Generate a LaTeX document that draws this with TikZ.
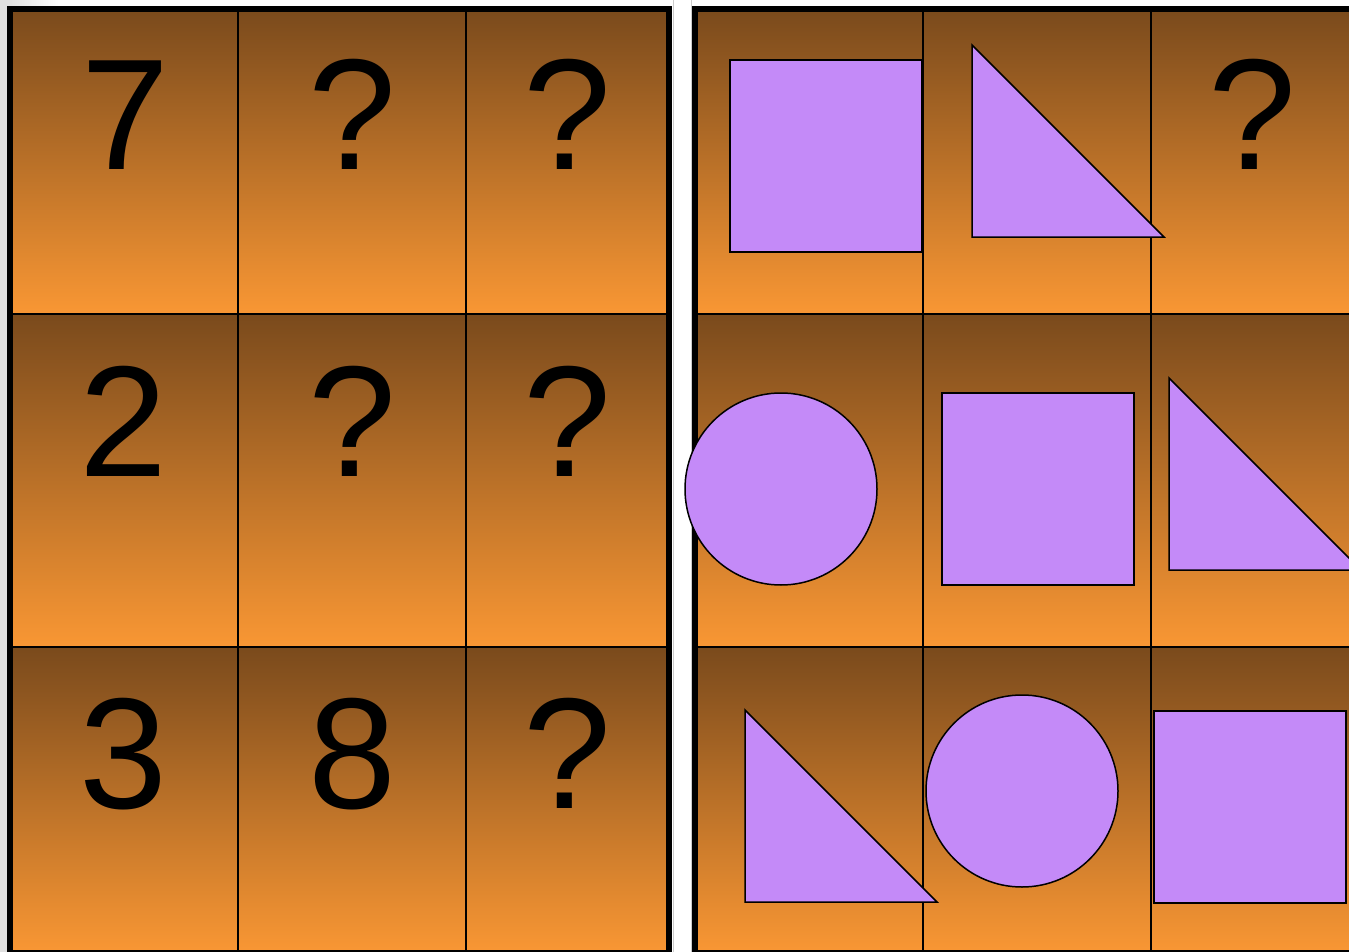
\documentclass[tikz,border=0pt]{standalone}
\usepackage{fontspec}
\setmainfont{Liberation Sans}
\definecolor{brtop}{HTML}{7A4A1C}
\definecolor{orbot}{HTML}{F99734}
\definecolor{lav}{HTML}{C48AF8}
\definecolor{bggrey}{HTML}{E0E0E0}
\begin{document}
\begin{tikzpicture}[x=1pt,y=-1pt,
  cellshade/.style={top color=brtop, bottom color=orbot},
  gridline/.style={draw=black, line width=2pt},
  frame/.style={draw=black, line width=6pt},
  shapefill/.style={fill=lav, draw=black, line width=1.5pt},
  glyph/.style={anchor=base, inner sep=0pt, font=\fontsize{158}{158}\selectfont}]
\useasboundingbox (0,0) rectangle (1349,952);
\clip (0,0) rectangle (1349,952);
\fill[white] (0,0) rectangle (1349,952);
\fill[bggrey] (0,0) rectangle (7,952);
\shade[left color=bggrey, right color=white] (7,0) rectangle (60,6);
% cell shading
\foreach \xa/\xb in {10/669, 695/1400}{
  \shade[cellshade] (\xa,10) rectangle (\xb,314);
  \shade[cellshade] (\xa,314) rectangle (\xb,647);
  \shade[cellshade] (\xa,647) rectangle (\xb,952);
}
% grid lines left panel
\draw[gridline] (10,314) -- (669,314);
\draw[gridline] (10,647) -- (669,647);
\draw[gridline] (238,10) -- (238,952);
\draw[gridline] (466,10) -- (466,952);
% grid lines right panel
\draw[gridline] (695,314) -- (1400,314);
\draw[gridline] (695,647) -- (1400,647);
\draw[gridline] (923,10) -- (923,952);
\draw[gridline] (1151,10) -- (1151,952);
% frames
\draw[frame] (10,9) rectangle (669,953);
\draw[frame] (1400,9) -- (695,9) -- (695,953) -- (1400,953);
\draw[gray!40, line width=1pt] (673,0) -- (673,952);
\draw[gray!40, line width=1pt] (691,0) -- (691,952);
% numbers
\node[glyph] (n11) at (125,170) {7};
\node[glyph] (n12) at (352,170) {?};
\node[glyph] (n13) at (567,170) {?};
\node[glyph] (n21) at (123,476) {2};
\node[glyph] (n22) at (352,476) {?};
\node[glyph] (n23) at (567,476) {?};
\node[glyph] (n31) at (123,808) {3};
\node[glyph] (n32) at (352,808) {8};
\node[glyph] (n33) at (567,808) {?};
\node[glyph] (s13) at (1252,170) {?};
% shapes
\draw[shapefill] (730,60) rectangle (922,252);
\draw[shapefill] (972,45) -- (972,237) -- (1164,237) -- cycle;
\draw[shapefill] (781,489) circle (96);
\draw[shapefill] (942,393) rectangle (1134,585);
\draw[shapefill] (1169,378) -- (1169,570) -- (1361,570) -- cycle;
\draw[shapefill] (745,710) -- (745,902) -- (937,902) -- cycle;
\draw[shapefill] (1022,791) circle (96);
\draw[shapefill] (1154,711) rectangle (1346,903);
\end{tikzpicture}
\end{document}
